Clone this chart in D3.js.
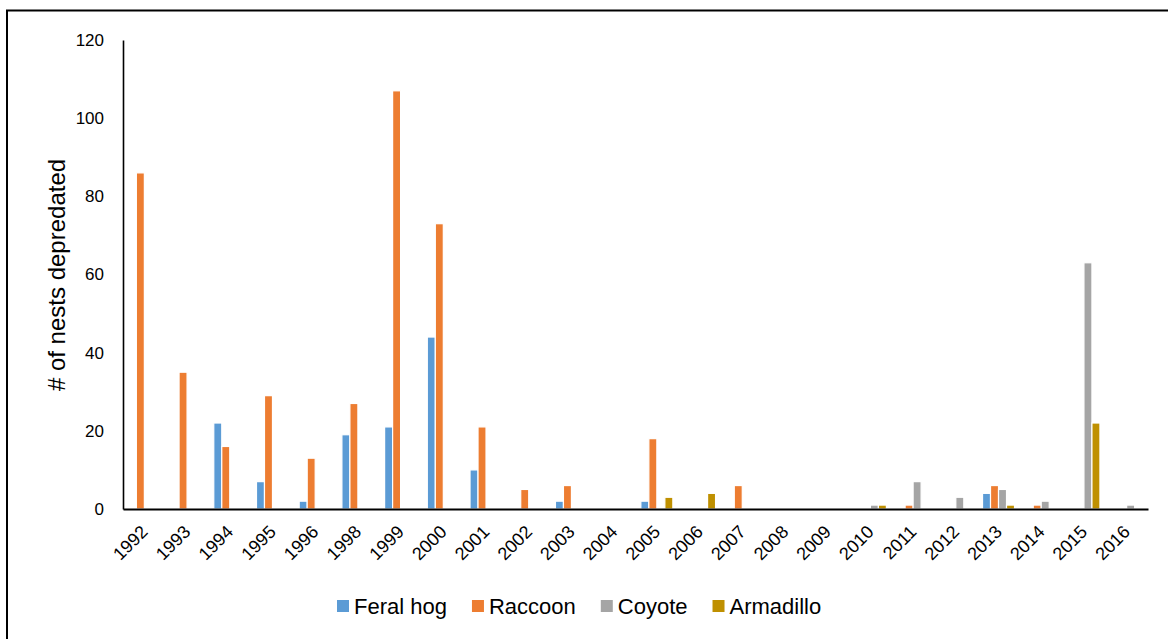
<!DOCTYPE html>
<html><head><meta charset="utf-8">
<script src="https://cdn.jsdelivr.net/npm/d3@7"></script>
<style>body{margin:0;background:#fff}svg{display:block;font-family:"Liberation Sans",Arial,sans-serif}</style>
</head><body>
<svg id="c" width="1168" height="639"></svg>
<script>
const years = ["1992","1993","1994","1995","1996","1998","1999","2000","2001","2002","2003","2004","2005","2006","2007","2008","2009","2010","2011","2012","2013","2014","2015","2016"];
const seriesNames = ["Feral hog","Raccoon","Coyote","Armadillo"];
const feralHog  = [0,0,22,7,2,19,21,44,10,0,2,0,2,0,0,0,0,0,0,0,4,0,0,0];
const raccoon   = [86,35,16,29,13,27,107,73,21,5,6,0,18,0,6,0,0,0,1,0,6,1,0,0];
const coyote    = [0,0,0,0,0,0,0,0,0,0,0,0,0,0,0,0,0,1,7,3,5,2,63,1];
const armadillo = [0,0,0,0,0,0,0,0,0,0,0,0,3,4,0,0,0,1,0,0,1,0,22,0];
const colors = ["#5B9BD5","#ED7D31","#A5A5A5","#BF9000"];
const yTicks = [0,20,40,60,80,100,120];
const yTitle = "# of nests depredated";

const seriesValues = [feralHog, raccoon, coyote, armadillo];
const svg = d3.select("#c");

// outer border
svg.append("rect").attr("x",7).attr("y",10.5).attr("width",1200).attr("height",700)
  .attr("fill","none").attr("stroke","#000").attr("stroke-width",2);

const mLeft = 123, mRight = 1148, mTop = 40, mBottom = 509;
const x = d3.scaleBand().domain(years).range([mLeft,mRight]).padding(0);
const xi = d3.scaleBand().domain(seriesNames).range([0,x.step()]).paddingInner(0).paddingOuter(0.67);
const y = d3.scaleLinear().domain([0,120]).range([mBottom,mTop]);

// bars
const g = svg.append("g");
seriesNames.forEach((s,si)=>{
  g.append("g").selectAll("rect").data(years.map((yr,i)=>({yr,v:seriesValues[si][i]})).filter(d=>d.v>0))
   .join("rect")
   .attr("x",d=>x(d.yr)+xi(s))
   .attr("y",d=>y(d.v))
   .attr("width",xi.bandwidth())
   .attr("height",d=>y(0)-y(d.v))
   .attr("fill",colors[si])
   .attr("stroke","#fff").attr("stroke-width",1.2);
});

// y axis
const ya = svg.append("g").attr("transform",`translate(${mLeft},0)`)
  .call(d3.axisLeft(y).tickValues(yTicks).tickSize(0).tickPadding(19));
ya.select(".domain").attr("stroke","#000").attr("stroke-width",1.6);
ya.selectAll("text").attr("font-size",17).attr("fill","#000").attr("font-family","Liberation Sans, Arial, sans-serif");

// x axis
const xa = svg.append("g").attr("transform",`translate(0,${mBottom})`)
  .call(d3.axisBottom(x).tickSize(0).tickSizeOuter(0));
xa.select(".domain").attr("stroke","#000").attr("stroke-width",2.2);
xa.selectAll("text").attr("font-size",18).attr("fill","#000")
  .attr("font-family","Liberation Sans, Arial, sans-serif")
  .attr("text-anchor","end").attr("dy",null).attr("y",0)
  .attr("transform","translate(4.5,24) rotate(-45)");

// y title
svg.append("text").attr("transform","translate(65,275) rotate(-90)")
  .attr("text-anchor","middle").attr("font-size",24).attr("fill","#000").text(yTitle);

// legend
const lg = svg.append("g").attr("transform","translate(337,606)");
let cx = 0;
seriesNames.forEach((s,i)=>{
  lg.append("rect").attr("x",cx).attr("y",-6).attr("width",12).attr("height",12).attr("fill",colors[i]);
  const t = lg.append("text").attr("x",cx+17).attr("y",8).attr("font-size",22).attr("fill","#000").text(s);
  cx += 17 + t.node().getComputedTextLength() + 25;
});
</script>
</body></html>
